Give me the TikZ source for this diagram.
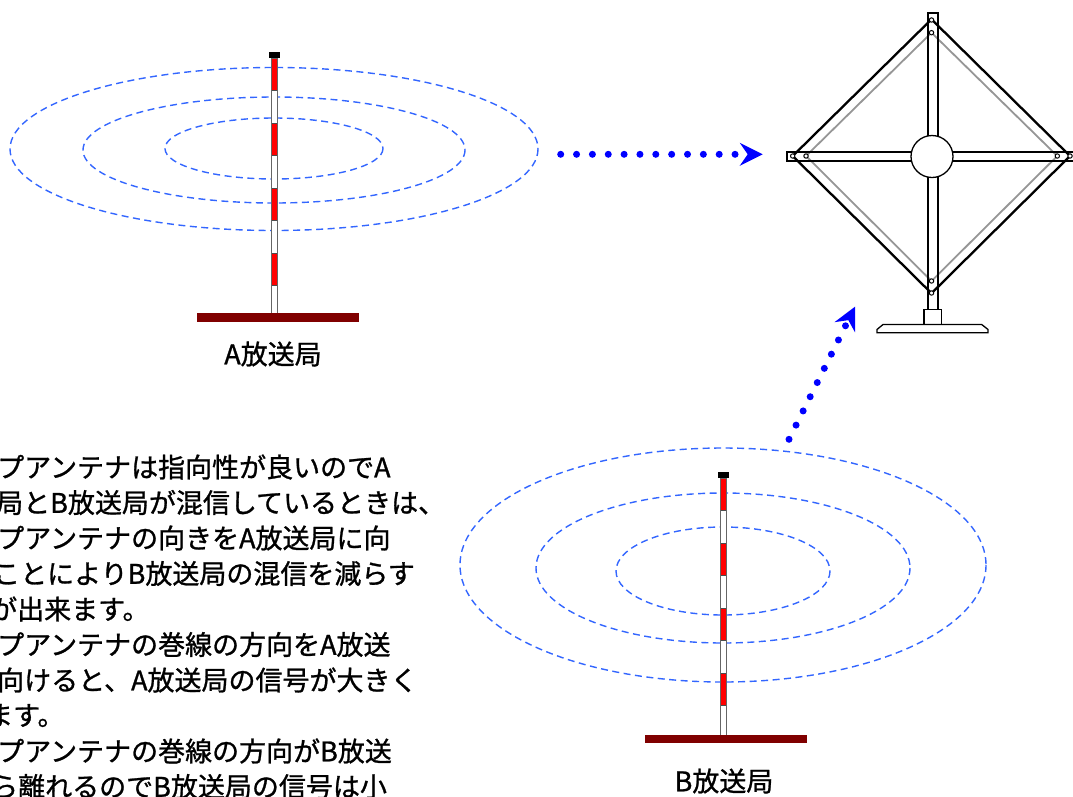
\documentclass[tikz,border=0pt]{standalone}
\usepackage{fontspec}
\newfontfamily\jpfont[FakeBold=1.0]{Noto Sans CJK JP}
\usetikzlibrary{arrows.meta}

\definecolor{wavecol}{RGB}{51,102,255}
\definecolor{basecol}{RGB}{128,0,0}
\definecolor{arrowcol}{RGB}{0,0,255}
\definecolor{loopgray}{RGB}{150,150,150}
\definecolor{mastred}{RGB}{255,0,0}

% striped transmitter mast: #1 centre x, #2 top, #3 bottom
\newcommand{\stationmast}[3]{%
  \fill[white] (#1-3,#2) rectangle (#1+3,#3);
  \foreach \k in {0,2,4,6}
    \fill[mastred] (#1-3,#2+\k*32.5) rectangle (#1+3,#2+\k*32.5+32.5);
  \foreach \k in {1,...,7}
    \draw[black!70, line width=0.8pt] (#1-3,#2+\k*32.5) -- (#1+3,#2+\k*32.5);
  \draw[mastedge] (#1-3,#2) rectangle (#1+3,#3);
  \fill[black] (#1-5.5,#2-6) rectangle (#1+5.5,#2);
}

\begin{document}
\begin{tikzpicture}[x=1pt,y=-1pt,
  wave/.style={draw=wavecol, line width=1.4pt, dash pattern=on 7pt off 4.5pt},
  mastedge/.style={draw=black!60, line width=1pt},
  groundbar/.style={fill=basecol},
  label/.style={font=\jpfont\fontsize{27pt}{27pt}\selectfont, inner sep=0pt},
  bodyline/.style={label, anchor=west},
  dotarrow/.style={draw=arrowcol, line width=7pt, line cap=round,
    dash pattern=on 0pt off 15.85pt,
    -{Stealth[length=23pt,width=23pt,inset=8pt,line width=0pt]}},
  bolt/.style={draw=black, fill=white, line width=1pt},
]
\useasboundingbox (0,0) rectangle (1073,796);
\clip (0,0) rectangle (1073,796);

% ---- station A: radiation rings, mast, ground ----
\draw[wave] (274,149) ellipse [x radius=264, y radius=81.5];
\draw[wave] (274,150) ellipse [x radius=191, y radius=53];
\draw[wave] (274,148.5) ellipse [x radius=109, y radius=30.5];
\stationmast{274.5}{58}{313}
\fill[groundbar] (197,313) rectangle (359,322);
\node[label] (labA) at (273,354) {A放送局};

% ---- station B ----
\draw[wave] (723,565) ellipse [x radius=263, y radius=117];
\draw[wave] (723,568) ellipse [x radius=187, y radius=75];
\draw[wave] (723,571) ellipse [x radius=107, y radius=44];
\stationmast{723}{478}{735}
\fill[groundbar] (645,735) rectangle (807,743);
\node[label] (labB) at (724,781) {B放送局};

% ---- loop antenna ----
\draw[loopgray, line width=1.8pt, line join=miter]
  (931.5,32.7) -- (1057.3,156) -- (931.5,281) -- (806,156) -- cycle;
\draw[black, line width=2.3pt, line join=miter]
  (931.5,19.3) -- (1070,156) -- (931.5,293.3) -- (792.7,156) -- cycle;
\begin{scope}[line width=1.3pt]
  \draw (928,309.3) -- (928,13) -- (938,13) -- (938,309.3);
  \draw (1075,152) -- (787,152) -- (787,161) -- (1075,161);
  \node[draw, fill=white, circle, minimum size=42pt, inner sep=0pt, line width=1.3pt] (hub) at (932,156.5) {};
  \draw[fill=white] (924,309.3) rectangle (941.7,325);
  \draw[fill=white] (883,324.5) -- (981.7,324.5) -- (988,329.5) -- (988,332.7)
    -- (877,332.7) -- (877,329.5) -- cycle;
\end{scope}
\foreach \p in {(931.5,20),(931.5,32.7),(931.5,281),(931.5,293),
                (792.7,156),(806,156),(1057.3,156),(1070,156)}
  \draw[bolt] \p circle [radius=2.2];

% ---- signal arrows ----
\coordinate (fromA) at (560.7,154.3);
\coordinate (toLoop) at (762.7,154.3);
\draw[dotarrow] (fromA) -- (toLoop);
\coordinate (fromB) at (789,439.3);
\coordinate (toLoopB) at (855,306.7);
\draw[dotarrow] (fromB) -- (toLoopB);

% ---- explanation text ----
\node[bodyline] (t1)  at (-3,467)    {プアンテナは指向性が良いのでA};
\node[bodyline] (t2)  at (-4,502.5)  {局とB放送局が混信しているときは、};
\node[bodyline] (t3)  at (-3,538)    {プアンテナの向きをA放送局に向};
\node[bodyline] (t4)  at (-7,573.5)  {ことによりB放送局の混信を減らす};
\node[bodyline] (t5)  at (-10,609)   {が出来ます。};
\node[bodyline] (t6)  at (-3,644.5)  {プアンテナの巻線の方向をA放送};
\node[bodyline] (t7)  at (-3,680)    {向けると、A放送局の信号が大きく};
\node[bodyline] (t8)  at (-14,715.5) {ます。};
\node[bodyline] (t9)  at (-3,751)    {プアンテナの巻線の方向がB放送};
\node[bodyline] (t10) at (-9,786.5)  {ら離れるのでB放送局の信号は小};
\end{tikzpicture}
\end{document}
